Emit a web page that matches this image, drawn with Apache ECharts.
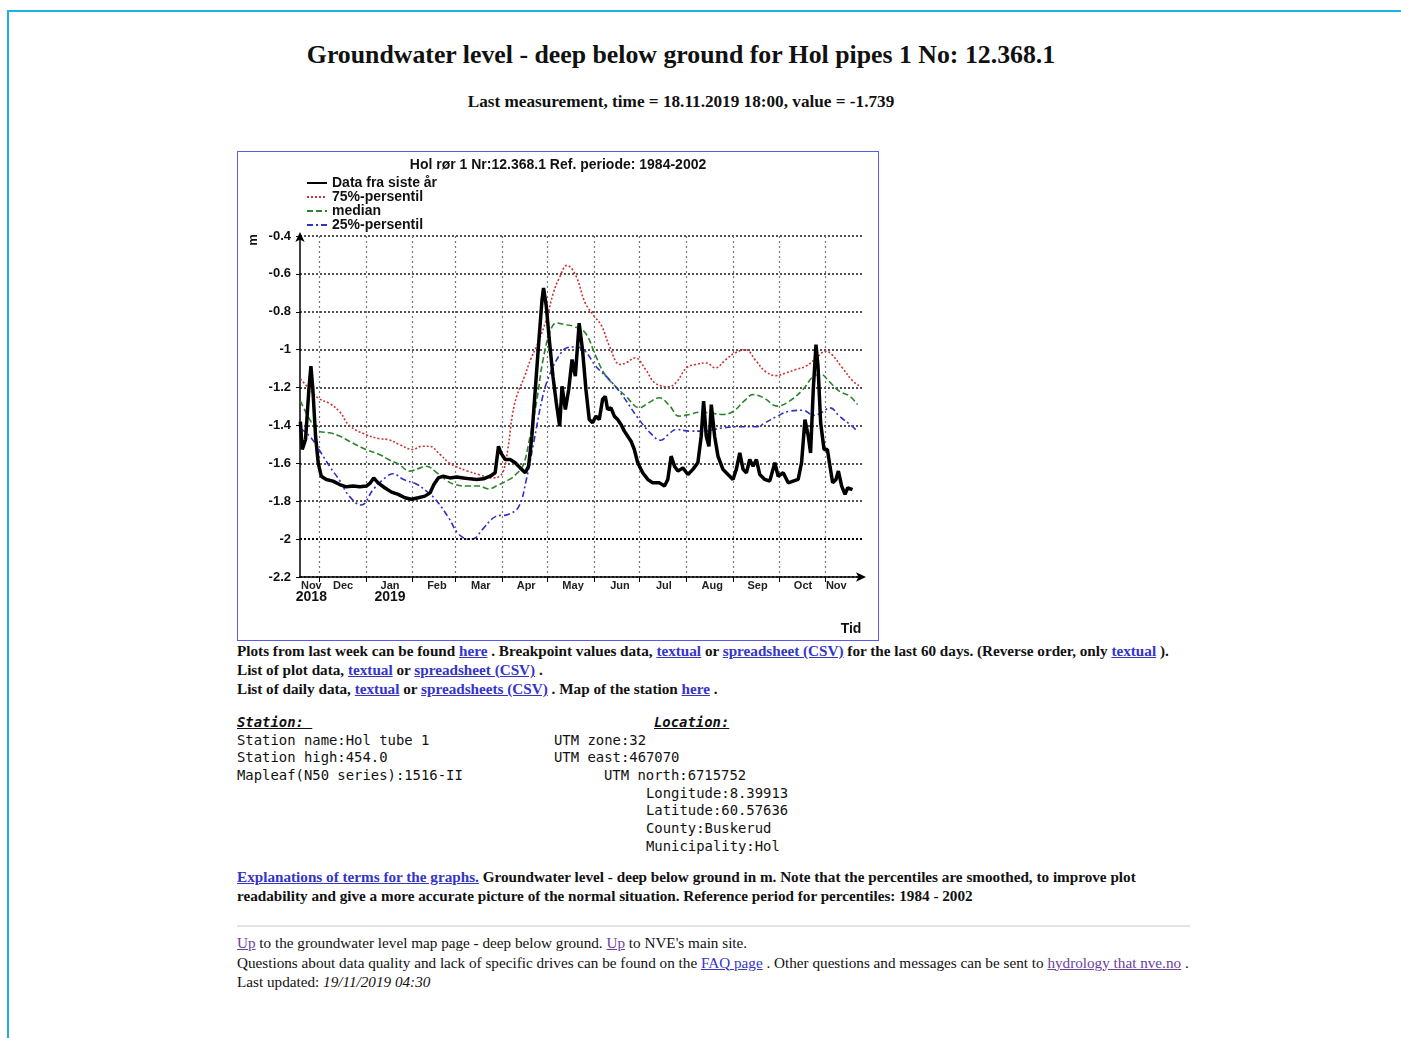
<!DOCTYPE html>
<html>
<head>
<meta charset="utf-8">
<title>Groundwater level - Hol pipes 1</title>
<script src="https://cdn.jsdelivr.net/npm/echarts@6.0.0/dist/echarts.min.js"></script>
<style>
html, body { margin: 0; padding: 0; background: #fff; overflow: hidden; }
body { font-family: "Liberation Serif", "Times New Roman", serif; color: #111; width: 1401px; height: 1038px; position: relative; }
#frame { position: absolute; left: 7px; top: 10px; width: 1394px; height: 1028px; border-top: 2px solid #1db1df; border-left: 2px solid #1db1df; }
.abs { position: absolute; white-space: nowrap; }
a { color: #3434c8; text-decoration: underline; }
a.v { color: #6a3fa0; }
#head { left: 0; top: 39px; width: 1362px; text-align: center; font-weight: bold; font-size: 25.8px; line-height: 32px; }
#sub { left: 0; top: 91px; width: 1362px; text-align: center; font-weight: bold; font-size: 17.2px; line-height: 22px; }
#box { left: 237px; top: 151px; width: 640px; height: 488px; border: 1px solid #5a5af0; }
#chart { width: 640px; height: 488px; }
#links { left: 237px; top: 641px; font-weight: bold; font-size: 15.2px; line-height: 19px; }
.mono { font-family: "DejaVu Sans Mono", monospace; font-size: 13.9px; line-height: 17.7px; color: #111; }
.hd { font-weight: bold; font-style: italic; text-decoration: underline; }
#expl { left: 237px; top: 867px; font-weight: bold; font-size: 15.2px; line-height: 19px; }
#rule { left: 237px; top: 925px; width: 953px; height: 0; border-top: 2px solid #e4e4e4; }
#foot { left: 237px; top: 933px; font-size: 15.2px; line-height: 19.5px; }
</style>
</head>
<body>
<div id="frame"></div>
<div id="head" class="abs">Groundwater level - deep below ground for Hol pipes 1 No: 12.368.1</div>
<div id="sub" class="abs">Last measurement, time = 18.11.2019 18:00, value = -1.739</div>
<div id="box" class="abs"><div id="chart"></div></div>

<div id="links" class="abs">
Plots from last week can be found <a href="#">here</a> . Breakpoint values data, <a href="#">textual</a> or <a href="#">spreadsheet (CSV)</a> for the last 60 days. (Reverse order, only <a href="#">textual</a> ).<br>
List of plot data, <a href="#">textual</a> or <a href="#">spreadsheet (CSV)</a> .<br>
List of daily data, <a href="#">textual</a> or <a href="#">spreadsheets (CSV)</a> . Map of the station <a href="#">here</a> .
</div>

<div class="abs mono hd" style="left:237px; top:714px;">Station:&nbsp;</div>
<div class="abs mono hd" style="left:654px; top:714px;">Location:</div>
<div class="abs mono" style="left:237px; top:732px;">Station name:Hol tube 1</div>
<div class="abs mono" style="left:237px; top:749px;">Station high:454.0</div>
<div class="abs mono" style="left:237px; top:767px;">Mapleaf(N50 series):1516-II</div>
<div class="abs mono" style="left:554px; top:732px;">UTM zone:32</div>
<div class="abs mono" style="left:554px; top:749px;">UTM east:467070</div>
<div class="abs mono" style="left:604px; top:767px;">UTM north:6715752</div>
<div class="abs mono" style="left:646px; top:785px;">Longitude:8.39913</div>
<div class="abs mono" style="left:646px; top:802px;">Latitude:60.57636</div>
<div class="abs mono" style="left:646px; top:820px;">County:Buskerud</div>
<div class="abs mono" style="left:646px; top:838px;">Municipality:Hol</div>

<div id="expl" class="abs">
<a href="#">Explanations of terms for the graphs.</a> Groundwater level - deep below ground in m. Note that the percentiles are smoothed, to improve plot<br>
readability and give a more accurate picture of the normal situation. Reference period for percentiles: 1984 - 2002
</div>
<div id="rule" class="abs"></div>
<div id="foot" class="abs">
<a class="v" href="#">Up</a> to the groundwater level map page - deep below ground. <a class="v" href="#">Up</a> to NVE's main site.<br>
Questions about data quality and lack of specific drives can be found on the <a href="#">FAQ page</a> . Other questions and messages can be sent to <a class="v" href="#">hydrology that nve.no</a> .<br>
Last updated: <i>19/11/2019 04:30</i>
</div>

<script>
// akseomfang og månedsinndeling
var axisStart = '2018-11-18 12:00';
var axisEnd = '2019-11-25 00:00';
var monthStarts = ['2018-12-01', '2019-01-01', '2019-02-01', '2019-03-01', '2019-04-01', '2019-05-01',
    '2019-06-01', '2019-07-01', '2019-08-01', '2019-09-01', '2019-10-01', '2019-11-01'];
var labelDates = ['2018-11-26', '2018-12-17', '2019-01-17', '2019-02-17', '2019-03-18', '2019-04-17',
    '2019-05-18', '2019-06-18', '2019-07-17', '2019-08-18', '2019-09-17', '2019-10-17', '2019-11-08'];
var monthNames = ['Nov', 'Dec', 'Jan', 'Feb', 'Mar', 'Apr', 'May', 'Jun', 'Jul', 'Aug', 'Sep', 'Oct', 'Nov'];
var yearNames = ['2018', '', '2019', '', '', '', '', '', '', '', '', '', ''];

// Data fra siste år
var obsTimes = ['2018-11-18 18:00', '2018-11-20 00:00', '2018-11-22 04:00', '2018-11-24 09:00', '2018-11-25 17:00',
    '2018-11-27 00:00', '2018-11-28 19:00', '2018-11-30 13:00', '2018-12-02 13:00', '2018-12-05 21:00',
    '2018-12-10 07:00', '2018-12-14 17:00', '2018-12-19 03:00', '2018-12-23 12:00', '2018-12-28 00:00',
    '2019-01-01 10:00', '2019-01-04 00:00', '2019-01-06 06:00', '2019-01-09 03:00', '2019-01-13 12:00',
    '2019-01-18 00:00', '2019-01-22 10:00', '2019-01-26 19:00', '2019-01-31 05:00', '2019-02-04 16:00',
    '2019-02-09 02:00', '2019-02-12 10:00', '2019-02-15 00:00', '2019-02-17 22:00', '2019-02-21 05:00',
    '2019-02-25 16:00', '2019-03-02 02:00', '2019-03-06 12:00', '2019-03-10 22:00', '2019-03-15 08:00',
    '2019-03-19 18:00', '2019-03-24 04:00', '2019-03-27 12:00', '2019-03-29 17:00', '2019-03-31 06:00',
    '2019-04-03 03:00', '2019-04-06 10:00', '2019-04-09 18:00', '2019-04-13 02:00', '2019-04-16 10:00',
    '2019-04-18 14:00', '2019-04-20 19:00', '2019-04-23 01:00', '2019-04-25 07:00', '2019-04-27 12:00',
    '2019-04-28 12:00', '2019-04-30 07:00', '2019-05-02 12:00', '2019-05-04 17:00', '2019-05-06 22:00',
    '2019-05-09 04:00', '2019-05-10 17:00', '2019-05-12 22:00', '2019-05-15 03:00', '2019-05-17 08:00',
    '2019-05-19 12:00', '2019-05-22 01:00', '2019-05-24 06:00', '2019-05-26 12:00', '2019-05-28 17:00',
    '2019-05-30 22:00', '2019-06-02 03:00', '2019-06-04 08:00', '2019-06-06 12:00', '2019-06-08 07:00',
    '2019-06-09 20:00', '2019-06-12 01:00', '2019-06-14 07:00', '2019-06-16 12:00', '2019-06-18 17:00',
    '2019-06-20 22:00', '2019-06-23 03:00', '2019-06-25 08:00', '2019-06-27 12:00', '2019-06-29 17:00',
    '2019-07-03 01:00', '2019-07-06 10:00', '2019-07-09 17:00', '2019-07-14 03:00', '2019-07-17 10:00',
    '2019-07-19 15:00', '2019-07-21 20:00', '2019-07-24 01:00', '2019-07-26 07:00', '2019-07-29 14:00',
    '2019-08-01 22:00', '2019-08-05 05:00', '2019-08-08 12:00', '2019-08-10 17:00', '2019-08-12 07:00',
    '2019-08-14 01:00', '2019-08-15 20:00', '2019-08-17 09:00', '2019-08-19 14:00', '2019-08-21 19:00',
    '2019-08-25 02:00', '2019-08-28 10:00', '2019-08-31 17:00', '2019-09-02 22:00', '2019-09-05 05:00',
    '2019-09-07 10:00', '2019-09-09 14:00', '2019-09-11 19:00', '2019-09-14 00:00', '2019-09-16 05:00',
    '2019-09-18 10:00', '2019-09-21 17:00', '2019-09-25 00:00', '2019-09-28 09:00', '2019-09-30 14:00',
    '2019-10-03 22:00', '2019-10-07 05:00', '2019-10-10 12:00', '2019-10-13 19:00', '2019-10-16 01:00',
    '2019-10-18 07:00', '2019-10-20 12:00', '2019-10-22 00:00', '2019-10-23 19:00', '2019-10-25 14:00',
    '2019-10-26 22:00', '2019-10-28 16:00', '2019-10-30 22:00', '2019-11-02 03:00', '2019-11-03 20:00',
    '2019-11-05 14:00', '2019-11-07 19:00', '2019-11-09 09:00', '2019-11-11 14:00', '2019-11-13 19:00',
    '2019-11-15 12:00', '2019-11-18 18:00'];
var obsLevels = [-1.38, -1.527, -1.474, -1.21, -1.087,
    -1.21, -1.457, -1.597, -1.668, -1.685,
    -1.694, -1.712, -1.724, -1.72, -1.724,
    -1.72, -1.703, -1.677, -1.703, -1.729,
    -1.752, -1.764, -1.782, -1.79, -1.782,
    -1.773, -1.756, -1.712, -1.677, -1.668,
    -1.677, -1.672, -1.677, -1.682, -1.685,
    -1.682, -1.668, -1.65, -1.51, -1.545,
    -1.58, -1.58, -1.597, -1.624, -1.65,
    -1.615, -1.457, -1.21, -0.964, -0.735,
    -0.674, -0.77, -0.964, -1.14, -1.28,
    -1.404, -1.193, -1.316, -1.21, -1.052,
    -1.14, -0.86, -1.0, -1.21, -1.369,
    -1.386, -1.351, -1.369, -1.263, -1.246,
    -1.316, -1.307, -1.351, -1.369, -1.395,
    -1.43, -1.457, -1.483, -1.527, -1.597,
    -1.65, -1.685, -1.703, -1.703, -1.72,
    -1.685, -1.562, -1.615, -1.641, -1.624,
    -1.659, -1.632, -1.597, -1.457, -1.272,
    -1.457, -1.51, -1.29, -1.457, -1.562,
    -1.632, -1.659, -1.685, -1.632, -1.545,
    -1.632, -1.65, -1.58, -1.615, -1.58,
    -1.659, -1.685, -1.694, -1.597, -1.668,
    -1.65, -1.703, -1.694, -1.685, -1.597,
    -1.369, -1.457, -1.545, -1.21, -0.973,
    -1.087, -1.386, -1.527, -1.527, -1.615,
    -1.703, -1.685, -1.641, -1.72, -1.764,
    -1.729, -1.739];

// 75%-persentil
var p75Times = ['2018-11-18 18:00', '2018-11-25', '2018-12-01', '2018-12-08', '2018-12-15', '2018-12-21',
    '2019-01-01', '2019-01-10', '2019-01-16', '2019-01-23', '2019-02-01', '2019-02-07', '2019-02-12',
    '2019-02-19', '2019-02-25', '2019-03-01', '2019-03-09', '2019-03-17', '2019-03-26', '2019-03-30',
    '2019-04-02', '2019-04-05', '2019-04-08', '2019-04-11', '2019-04-16', '2019-04-20', '2019-04-24',
    '2019-04-30', '2019-05-05', '2019-05-09', '2019-05-14', '2019-05-20', '2019-05-26', '2019-06-01',
    '2019-06-06', '2019-06-11', '2019-06-18', '2019-06-22', '2019-06-28', '2019-07-05', '2019-07-11',
    '2019-07-20', '2019-07-25', '2019-08-01', '2019-08-07', '2019-08-14', '2019-08-20', '2019-08-27',
    '2019-09-02', '2019-09-09', '2019-09-16', '2019-09-22', '2019-09-29', '2019-10-06', '2019-10-12',
    '2019-10-19', '2019-10-26', '2019-11-01', '2019-11-05', '2019-11-12', '2019-11-19', '2019-11-23'];
var p75 = [-1.154, -1.21, -1.258, -1.284, -1.33, -1.40,
    -1.448, -1.47, -1.475, -1.50, -1.527, -1.51, -1.51,
    -1.553, -1.597, -1.615, -1.64, -1.66, -1.677, -1.67,
    -1.64, -1.52, -1.34, -1.24, -1.14, -1.05, -0.98,
    -0.85, -0.70, -0.62, -0.555, -0.612, -0.753, -0.823,
    -0.876, -0.98, -1.078, -1.07, -1.043, -1.105, -1.175,
    -1.196, -1.175, -1.096, -1.078, -1.07, -1.096, -1.052,
    -1.017, -1.0, -1.06, -1.114, -1.137, -1.122, -1.105,
    -1.087, -1.043, -1.008, -1.025, -1.096, -1.166, -1.19];

// median
var medTimes = ['2018-11-18 18:00', '2018-11-25', '2018-12-01', '2018-12-08', '2018-12-15', '2018-12-21',
    '2019-01-01', '2019-01-10', '2019-01-16', '2019-01-23', '2019-01-30', '2019-02-06', '2019-02-10',
    '2019-02-17', '2019-02-24', '2019-03-01', '2019-03-09', '2019-03-17', '2019-03-23', '2019-03-30',
    '2019-04-06', '2019-04-10', '2019-04-15', '2019-04-19', '2019-04-24', '2019-04-28', '2019-05-03',
    '2019-05-07', '2019-05-12', '2019-05-18', '2019-05-26', '2019-06-02', '2019-06-08', '2019-06-15',
    '2019-06-22', '2019-07-01', '2019-07-07', '2019-07-14', '2019-07-21', '2019-07-27', '2019-08-03',
    '2019-08-10', '2019-08-16', '2019-08-25', '2019-09-01', '2019-09-08', '2019-09-14', '2019-09-21',
    '2019-09-30', '2019-10-08', '2019-10-17', '2019-10-24', '2019-10-29', '2019-11-03', '2019-11-10',
    '2019-11-17', '2019-11-22'];
var med = [-1.27, -1.369, -1.43, -1.439, -1.457, -1.483,
    -1.527, -1.553, -1.58, -1.606, -1.641, -1.624, -1.615,
    -1.65, -1.694, -1.712, -1.72, -1.72, -1.735, -1.712,
    -1.685, -1.66, -1.61, -1.48, -1.27, -1.06, -0.90,
    -0.859, -0.867, -0.876, -0.911, -1.034, -1.131, -1.193,
    -1.246, -1.307, -1.28, -1.254, -1.298, -1.351, -1.342,
    -1.33, -1.333, -1.342, -1.325, -1.272, -1.237, -1.254,
    -1.298, -1.272, -1.21, -1.14, -1.131, -1.166, -1.219,
    -1.246, -1.29];

// 25%-persentil
var p25Times = ['2018-11-18 18:00', '2018-11-25', '2018-12-01', '2018-12-08', '2018-12-15', '2018-12-21',
    '2018-12-29', '2019-01-06', '2019-01-15', '2019-01-19', '2019-01-26', '2019-02-04', '2019-02-10',
    '2019-02-16', '2019-02-25', '2019-03-03', '2019-03-10', '2019-03-14', '2019-03-19', '2019-03-28',
    '2019-04-05', '2019-04-12', '2019-04-17', '2019-04-22', '2019-04-28', '2019-05-03', '2019-05-10',
    '2019-05-14', '2019-05-20', '2019-05-26', '2019-06-02', '2019-06-11', '2019-06-20', '2019-06-29',
    '2019-07-08', '2019-07-15', '2019-07-20', '2019-07-25', '2019-08-03', '2019-08-12', '2019-08-25',
    '2019-09-03', '2019-09-16', '2019-09-22', '2019-09-30', '2019-10-08', '2019-10-17', '2019-10-24',
    '2019-10-29', '2019-11-04', '2019-11-10', '2019-11-17', '2019-11-22'];
var p25 = [-1.416, -1.457, -1.527, -1.615, -1.694, -1.773,
    -1.82, -1.737, -1.668, -1.655, -1.685, -1.712, -1.747,
    -1.79, -1.89, -1.97, -2.0, -1.995, -1.95, -1.88,
    -1.87, -1.83, -1.69, -1.49, -1.245, -1.122, -1.017,
    -0.99, -0.985, -1.008, -1.087, -1.158, -1.246, -1.351,
    -1.439, -1.478, -1.448, -1.421, -1.43, -1.43, -1.413,
    -1.407, -1.407, -1.386, -1.351, -1.325, -1.32, -1.347,
    -1.333, -1.307, -1.351, -1.395, -1.43];

// lokal tid i millisekunder
function toTime(s) {
    var p = s.split(/[- :]/);
    return new Date(+p[0], +p[1] - 1, +p[2], +(p[3] || 0), +(p[4] || 0)).getTime();
}
function pairs(times, values) {
    var out = [];
    var n = Math.min(times.length, values.length);
    for (var i = 0; i < n; i++) {
        out.push([toTime(times[i]), values[i]]);
    }
    return out;
}

var labelTs = labelDates.map(toTime);
var font = '"Liberation Sans", Arial, sans-serif';

var myChart = echarts.init(document.getElementById('chart'));

var option = {
    animation: false,
    textStyle: { fontFamily: font },
    title: {
        text: 'Hol rør 1 Nr:12.368.1 Ref. periode: 1984-2002',
        left: 'center',
        top: 1,
        textStyle: { fontSize: 14, fontWeight: 'bold', color: '#111', fontFamily: font }
    },
    legend: {
        orient: 'vertical',
        left: 63,
        top: 19,
        itemWidth: 20,
        itemHeight: 1,
        itemGap: 0,
        selectedMode: false,
        itemStyle: { opacity: 0, borderWidth: 0 },
        textStyle: { fontSize: 14, fontWeight: 'bold', color: '#111', lineHeight: 14, fontFamily: font },
        data: ['Data fra siste år', '75%-persentil', 'median', '25%-persentil']
    },
    grid: { left: 62, top: 84, right: 16, bottom: 63 },
    xAxis: {
        type: 'value',
        min: toTime(axisStart),
        max: toTime(axisEnd),
        axisLine: {
            onZero: false,
            lineStyle: { color: '#000', width: 1.5 },
            symbol: ['none', 'arrow'],
            symbolSize: [7, 10],
            symbolOffset: [0, 4]
        },
        axisTick: {
            show: true,
            customValues: monthStarts.map(toTime),
            length: 5,
            lineStyle: { color: '#000', width: 1 }
        },
        axisLabel: {
            customValues: labelTs,
            hideOverlap: false,
            margin: 3,
            formatter: function (v) {
                var best = 0;
                for (var i = 1; i < labelTs.length; i++) {
                    if (Math.abs(labelTs[i] - v) < Math.abs(labelTs[best] - v)) best = i;
                }
                var s = '{m|' + monthNames[best] + '}';
                if (yearNames[best]) s += '\n{y|' + yearNames[best] + '}';
                return s;
            },
            rich: {
                m: { fontSize: 11, fontWeight: 'bold', color: '#222', lineHeight: 11, fontFamily: font },
                y: { fontSize: 14, fontWeight: 'bold', color: '#111', lineHeight: 12, fontFamily: font }
            }
        },
        splitLine: { show: true, lineStyle: { color: '#777', type: [2, 3], width: 1.2 } }
    },
    yAxis: {
        type: 'value',
        min: -2.2,
        max: -0.4,
        interval: 0.2,
        axisLine: {
            show: true,
            onZero: false,
            lineStyle: { color: '#000', width: 1.5 },
            symbol: ['none', 'arrow'],
            symbolSize: [7, 10],
            symbolOffset: [0, 4]
        },
        axisTick: { show: true, length: 4, lineStyle: { color: '#000' } },
        axisLabel: { color: '#111', fontSize: 13, fontWeight: 'bold', margin: 9, fontFamily: font },
        splitLine: { show: true, lineStyle: { color: '#1a1a1a', type: [2, 2], width: 1.5 } }
    },
    graphic: [
        {
            type: 'text', x: 15, y: 88, rotation: Math.PI / 2,
            style: { text: 'm', font: 'bold 13px ' + font, fill: '#111', align: 'center', verticalAlign: 'middle' }
        },
        {
            type: 'text', x: 613, y: 477,
            style: { text: 'Tid', font: 'bold 14px ' + font, fill: '#111', align: 'center', verticalAlign: 'middle' }
        }
    ],
    series: [
        {
            name: '75%-persentil',
            type: 'line',
            symbol: 'none',
            smooth: 0.4,
            data: pairs(p75Times, p75),
            lineStyle: { color: '#cc3333', width: 1.6, type: [2, 2] },
            itemStyle: { color: '#cc3333' },
            markLine: {
                silent: true,
                symbol: 'none',
                label: { show: false },
                lineStyle: { color: '#000', width: 2.2, type: [2, 2] },
                data: [{ yAxis: -2 }]
            }
        },
        {
            name: 'median',
            type: 'line',
            symbol: 'none',
            smooth: 0.4,
            data: pairs(medTimes, med),
            lineStyle: { color: '#2a852a', width: 1.6, type: [6, 3] },
            itemStyle: { color: '#2a852a' }
        },
        {
            name: '25%-persentil',
            type: 'line',
            symbol: 'none',
            smooth: 0.4,
            data: pairs(p25Times, p25),
            lineStyle: { color: '#3030cc', width: 1.6, type: [6, 3, 2, 3] },
            itemStyle: { color: '#3030cc' }
        },
        {
            name: 'Data fra siste år',
            type: 'line',
            symbol: 'none',
            data: pairs(obsTimes, obsLevels),
            lineStyle: { color: '#000', width: 3.5 },
            itemStyle: { color: '#000' }
        }
    ]
};

myChart.setOption(option);
</script>
</body>
</html>
